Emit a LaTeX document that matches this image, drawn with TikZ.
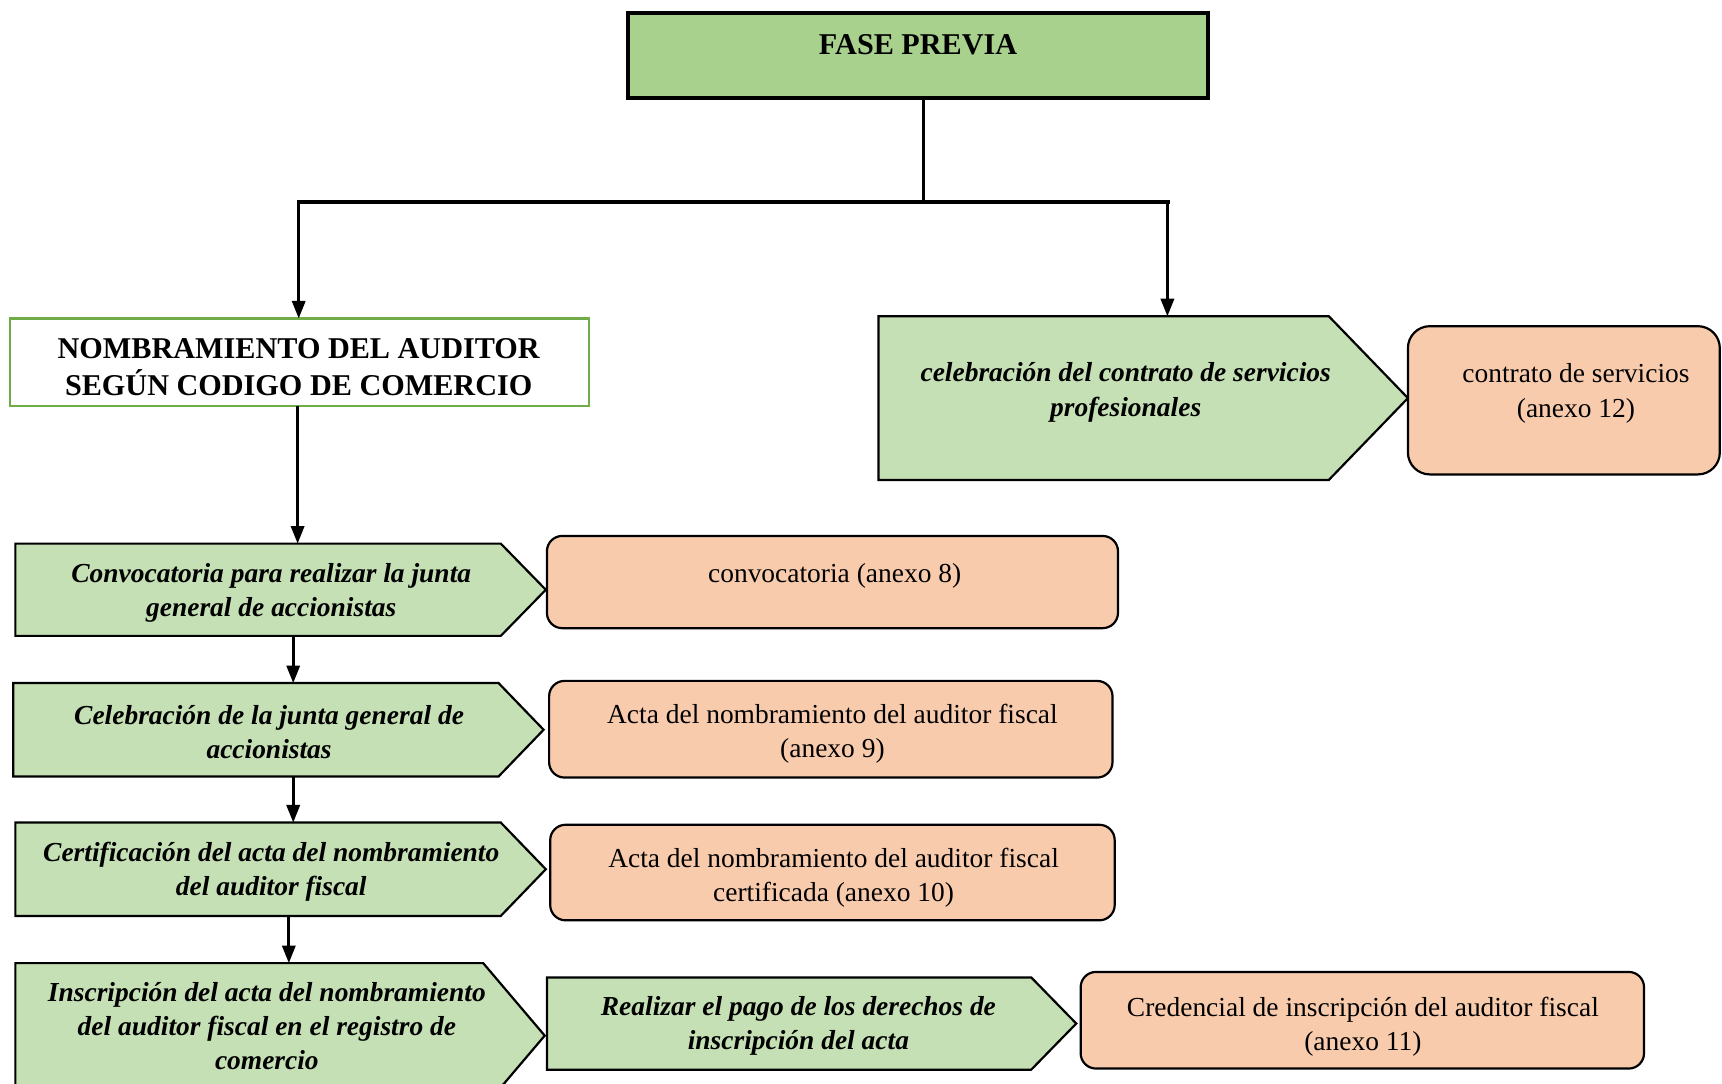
\documentclass[tikz,border=0pt]{standalone}
\usepackage{fontspec}
\setmainfont{Liberation Serif}
\usetikzlibrary{arrows.meta,calc}
\definecolor{faseGreen}{HTML}{A9D18E}
\definecolor{stepGreen}{HTML}{C5E0B4}
\definecolor{docPeach}{HTML}{F8CBAD}
\definecolor{frameGreen}{HTML}{70AD47}

\begin{document}
\begin{tikzpicture}[x=1pt,y=-1pt,
  txt/.style={align=center, inner sep=0pt, font=\fontsize{25}{31}\selectfont},
  stepTxt/.style={align=center, inner sep=0pt, font=\fontsize{25}{31}\selectfont\bfseries\itshape},
  head/.style={align=center, inner sep=0pt, font=\fontsize{27.5}{34}\selectfont\bfseries},
  body/.style={inner sep=0pt, outer sep=0pt},
  stepShape/.style={draw=black, line width=2pt, fill=stepGreen, line join=miter},
  docbox/.style={body, draw=black, line width=2pt, fill=docPeach, rounded corners=14pt},
  conn/.style={line width=3pt},
  arr/.style={line width=2.6pt, -{Triangle[length=16pt,width=12pt]}},
]
\useasboundingbox (0,0) rectangle (1568,987);
\clip (0,0) rectangle (1568,987);
\fill[white] (0,0) rectangle (1568,987);

% top phase box
\node[body, draw=black, line width=3.5pt, fill=faseGreen,
      minimum width=528pt, minimum height=77pt] (fase) at (836,50.5) {};
\node[head] (faseT) at (836,41) {FASE PREVIA};

% appointment header
\node[body, head, draw=frameGreen, line width=2pt, fill=white,
      minimum width=527pt, minimum height=80pt] (nomb) at (272.5,330) {};
\node[head] (nombT) at (272,334.5) {NOMBRAMIENTO DEL AUDITOR\\SEGÚN CODIGO DE COMERCIO};

% rectangular bodies of the step arrows
\node[body, minimum width=410pt, minimum height=149pt] (cont)  at (1005,362.5) {};
\node[body, minimum width=442pt, minimum height=84pt]  (conv)  at (235,537) {};
\node[body, minimum width=442pt, minimum height=85pt]  (junta) at (233,664.5) {};
\node[body, minimum width=442pt, minimum height=85pt]  (cert)  at (235,791.5) {};
\node[body, minimum width=426pt, minimum height=132pt] (inscr) at (227,943) {};
\node[body, minimum width=441pt, minimum height=84pt]  (pago)  at (718.5,932) {};

% step arrow outlines
\draw[stepShape] (cont.north west) -- (cont.north east) -- ($(cont.east)+(72,0)$) -- (cont.south east) -- (cont.south west) -- cycle;
\draw[stepShape] (conv.north west) -- (conv.north east) -- ($(conv.east)+(41,0)$) -- (conv.south east) -- (conv.south west) -- cycle;
\draw[stepShape] (junta.north west) -- (junta.north east) -- ($(junta.east)+(41,0)$) -- (junta.south east) -- (junta.south west) -- cycle;
\draw[stepShape] (cert.north west) -- (cert.north east) -- ($(cert.east)+(41,0)$) -- (cert.south east) -- (cert.south west) -- cycle;
\draw[stepShape] (inscr.north west) -- (inscr.north east) -- ($(inscr.east)+(56,0)$) -- (inscr.south east) -- (inscr.south west) -- cycle;
\draw[stepShape] (pago.north west) -- (pago.north east) -- ($(pago.east)+(41,0)$) -- (pago.south east) -- (pago.south west) -- cycle;

% step texts
\node[stepTxt, font=\fontsize{25}{32}\selectfont\bfseries\itshape] (contT) at (1025,357) {celebración del contrato de servicios\\profesionales};
\node[stepTxt] (convT)  at (247,539.5) {Convocatoria para realizar la junta\\general de accionistas};
\node[stepTxt] (juntaT) at (245,666.5) {Celebración de la junta general de\\accionistas};
\node[stepTxt] (certT)  at (247,793.5) {Certificación del acta del nombramiento\\del auditor fiscal};
\node[stepTxt] (inscrT) at (243,934)   {Inscripción del acta del nombramiento\\del auditor fiscal en el registro de\\comercio};
\node[stepTxt] (pagoT)  at (727,934.5) {Realizar el pago de los derechos de\\inscripción del acta};

% document boxes
\node[docbox, rounded corners=20pt, minimum width=284pt, minimum height=135pt] (doc12) at (1424,364.5) {};
\node[docbox, minimum width=520pt, minimum height=84pt] (doc8)  at (758,530) {};
\node[docbox, minimum width=513pt, minimum height=88pt] (doc9)  at (756.5,664) {};
\node[docbox, minimum width=514pt, minimum height=87pt] (doc10) at (758,794.5) {};
\node[docbox, minimum width=513pt, minimum height=88pt] (doc11) at (1240.5,929) {};

\node[txt, font=\fontsize{25}{32}\selectfont] (doc12T) at (1435,358.5) {contrato de servicios\\(anexo 12)};
\node[txt] (doc8T)  at (760,524)   {convocatoria (anexo 8)};
\node[txt] (doc9T)  at (758,668.5) {Acta del nombramiento del auditor fiscal\\(anexo 9)};
\node[txt] (doc10T) at (759,799.5) {Acta del nombramiento del auditor fiscal\\certificada (anexo 10)};
\node[txt] (doc11T) at (1241,934.5) {Credencial de inscripción del auditor fiscal\\(anexo 11)};

% connectors
\coordinate (bL) at (272,184);
\coordinate (bM) at (841,184);
\coordinate (bR) at (1063,184);
\coordinate (c1) at (267,0);
\coordinate (c2) at (263,0);

\draw[conn] (fase.south -| bM) -- (bM);
\draw[line width=4pt, line cap=rect] (bL) -- (bR);
\draw[arr] (bL) -- (bL |- nomb.north);
\draw[arr] (bR) -- (bR |- cont.north);
\draw[arr] ([xshift=-1.5pt]nomb.south) -- ([xshift=-1.5pt]nomb.south |- conv.north);
\draw[arr] (conv.south -| c1) -- (junta.north -| c1);
\draw[arr] (junta.south -| c1) -- (cert.north -| c1);
\draw[arr] (cert.south -| c2) -- (inscr.north -| c2);
\end{tikzpicture}
\end{document}
